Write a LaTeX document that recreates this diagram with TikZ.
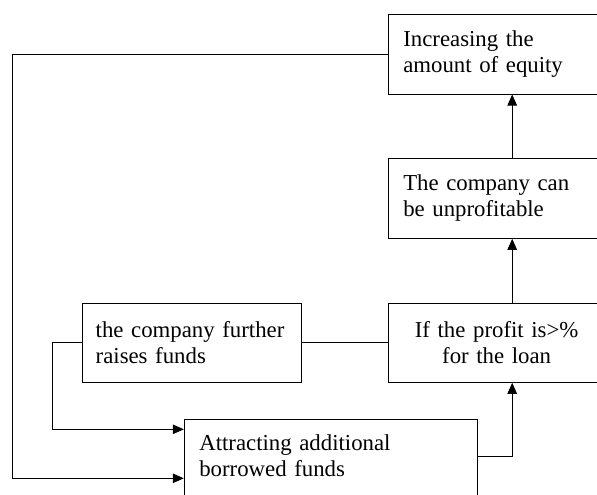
\documentclass[tikz,border=0pt]{standalone}
\usepackage{fontspec}
\setmainfont{Liberation Serif}
\usetikzlibrary{arrows.meta}
\begin{document}
\begin{tikzpicture}[x=1pt,y=-1pt,
  box/.style={draw, line width=1pt, rectangle, inner ysep=0pt, inner xsep=15pt,
    font=\fontsize{22.8}{26}\selectfont},
  arr/.style={line width=1pt, -{Triangle[width=9.5pt,length=11pt]}},
  link/.style={line width=1pt}]
\useasboundingbox (0,0) rectangle (597,495);
\clip (0,0) rectangle (597,495);
\coordinate (L1) at (12,0);
\coordinate (L2) at (52.7,0);
\node[box, minimum width=216.7pt, minimum height=79pt, text width=186.7pt, align=left]
  (A) at (496.65,54.5) {Increasing the\\amount of equity};
\node[box, minimum width=216.7pt, minimum height=79.6pt, text width=186.7pt, align=left]
  (B) at (496.65,198.5) {The company can\\be unprofitable};
\node[box, minimum width=216.7pt, minimum height=79pt, text width=186.7pt, align=center]
  (C) at (496.65,342.8) {If the profit is>\%\\for the loan};
\node[box, minimum width=218.3pt, minimum height=79pt, text width=192.3pt, inner xsep=13pt, align=left]
  (D) at (191.85,342.8) {the company further\\raises funds};
\node[box, anchor=north, inner ysep=14.4pt, text width=263pt, align=left]
  (E) at (330.8,419.3) {Attracting additional\\borrowed funds\\\mbox{}};
\draw[arr] (A.west) -- (A.west -| L1) |- ([yshift=-59pt]E.north west);
\draw[arr] (D.west) -- (D.west -| L2) |- ([yshift=-10pt]E.north west);
\draw[link] (D.east) -- (C.west);
\draw[arr] ([yshift=-37.4pt]E.north east) -| ([xshift=124.4pt]C.south west);
\draw[arr] ([xshift=124.4pt]C.north west) -- ([xshift=124.4pt]B.south west);
\draw[arr] ([xshift=124.4pt]B.north west) -- ([xshift=124.4pt]A.south west);
\end{tikzpicture}
\end{document}
